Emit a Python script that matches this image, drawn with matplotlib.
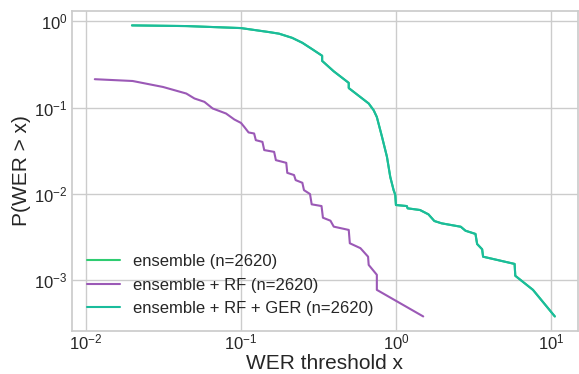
import matplotlib
matplotlib.use("Agg")
import matplotlib.pyplot as plt
import seaborn as sns

# survival curves P(WER > x) for n=2620 utterances (WER = 0 not shown on log axis)
ger_wer = [0.0198, 0.0444, 0.100, 0.152, 0.176, 0.214, 0.249, 0.288, 0.334, 0.334,
           0.397, 0.496, 0.496, 0.667, 0.718, 0.753, 0.813, 0.875, 0.919, 0.966,
           0.990, 1.000, 1.175, 1.19, 1.43, 1.62, 1.77, 1.97, 2.62, 2.81,
           3.26, 3.34, 3.60, 3.65, 5.83, 5.89, 7.66, 10.6]
ger_p = [0.899, 0.883, 0.837, 0.752, 0.721, 0.645, 0.565, 0.477, 0.400, 0.349,
         0.264, 0.194, 0.169, 0.112, 0.0936, 0.078, 0.046, 0.027, 0.0158, 0.0111,
         0.0098, 0.00746, 0.00726, 0.00683, 0.00653, 0.00582, 0.00487, 0.00458, 0.00418, 0.00376,
         0.00345, 0.00264, 0.00229, 0.00188, 0.00155, 0.00113, 0.000776, 0.000382]

# plain ensemble gives the same curve as ensemble + RF + GER
ens_wer = list(ger_wer)
ens_p = list(ger_p)

rf_wer = [0.0114, 0.0200, 0.0314, 0.0444, 0.0501, 0.0581, 0.0657, 0.0801, 0.0906, 0.100,
          0.105, 0.112, 0.1216, 0.1247, 0.1376, 0.1413, 0.1637, 0.168, 0.196, 0.199,
          0.220, 0.2254, 0.249, 0.255, 0.279, 0.286, 0.331, 0.338, 0.378, 0.397,
          0.496, 0.504, 0.590, 0.661, 0.667, 0.753, 0.753, 1.50]
rf_p = [0.214, 0.204, 0.174, 0.146, 0.128, 0.117, 0.098, 0.0857, 0.0731, 0.0667,
        0.060, 0.0517, 0.0503, 0.0421, 0.0402, 0.0323, 0.0308, 0.0247, 0.0230, 0.0176,
        0.0166, 0.0145, 0.0135, 0.0111, 0.0100, 0.0076, 0.00726, 0.00532, 0.00491, 0.00419,
        0.00384, 0.00269, 0.00236, 0.00188, 0.00151, 0.00116, 0.000776, 0.000382]

labels = ['ensemble (n=2620)', 'ensemble + RF (n=2620)', 'ensemble + RF + GER (n=2620)']
colors = ['#2ecc71', '#9b59b6', '#1abc9c']

sns.set_theme(style='whitegrid')
plt.rcParams['font.family'] = ['Liberation Sans', 'DejaVu Sans']
plt.rcParams['mathtext.fontset'] = 'custom'
plt.rcParams['mathtext.rm'] = 'Liberation Sans'
plt.rcParams['mathtext.it'] = 'Liberation Sans:italic'

fig, ax = plt.subplots(figsize=(5.79, 3.74), dpi=100)
fig.subplots_adjust(left=0.124, right=0.998, top=0.971, bottom=0.115)

for xs, ys, lab, c in zip([ens_wer, rf_wer, ger_wer], [ens_p, rf_p, ger_p], labels, colors):
    ax.plot(xs, ys, color=c, linewidth=1.5, label=lab)

ax.set_xscale('log')
ax.set_yscale('log')
ax.set_xlabel('WER threshold x', fontsize=15, labelpad=1)
ax.set_ylabel('P(WER > x)', fontsize=15, labelpad=2)
ax.tick_params(axis='both', which='both', length=0, labelsize=12)
ax.tick_params(axis='x', pad=1)
ax.tick_params(axis='y', pad=3)
ax.legend(loc='lower left', fontsize=12, frameon=False)

plt.savefig('out.png', dpi=100)
